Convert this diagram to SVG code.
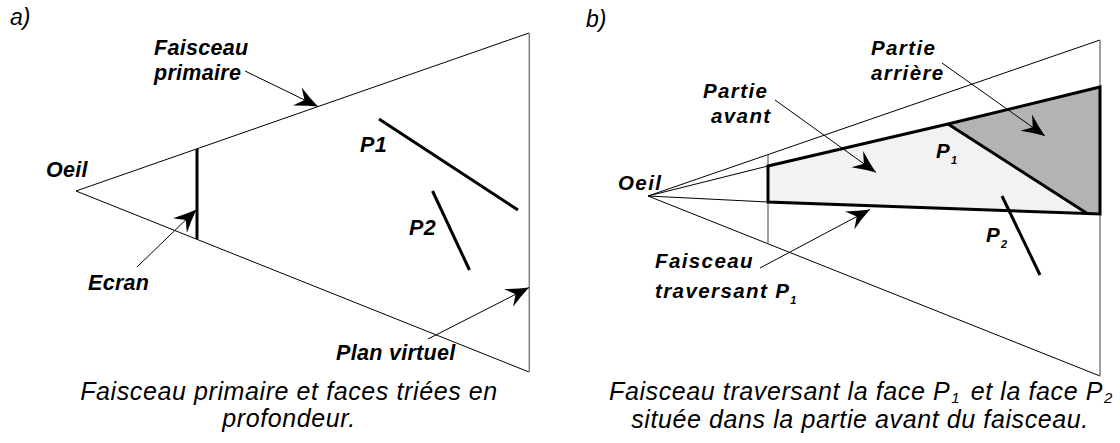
<svg xmlns="http://www.w3.org/2000/svg" width="1120" height="443" viewBox="0 0 1120 443">
<style>
.thin{stroke:#000;stroke-width:1;fill:none}
.gray{stroke:#7f7f7f;stroke-width:1.5;fill:none}
.thick{stroke:#000;stroke-width:3;fill:none;stroke-linecap:butt}
.arr{stroke:#000;stroke-width:1;fill:none;marker-end:url(#ah)}
.lab{font-family:"Liberation Sans",Arial,sans-serif;font-weight:bold;font-style:italic;font-size:21.5px;letter-spacing:0.3px;fill:#000}
.labb{font-family:"Liberation Sans",Arial,sans-serif;font-weight:bold;font-style:italic;font-size:20.5px;letter-spacing:1.4px;fill:#000}
.cap{font-family:"Liberation Sans",Arial,sans-serif;font-style:italic;font-size:25px;letter-spacing:0.6px;fill:#000}
.pan{font-family:"Liberation Sans",Arial,sans-serif;font-style:italic;font-size:23px;fill:#000}
</style>
<defs>
<marker id="ah" markerUnits="userSpaceOnUse" markerWidth="26" markerHeight="22" viewBox="-25 -11 26 22" refX="0" refY="0" orient="auto">
<path d="M0,0 Q-11,-4 -23,-10 L-15,0 L-23,10 Q-11,4 0,0 Z" fill="#000"/>
</marker>
</defs>
<rect width="1120" height="443" fill="#fff"/>

<!-- Panel a -->
<g id="panel-a-label"><text class="pan" x="10" y="25">a)</text></g>
<g id="beam-a">
<line class="thin" x1="76" y1="191" x2="529" y2="33"/>
<line class="thin" x1="76" y1="191" x2="529" y2="372"/>
</g>
<g id="plan-virtuel-a"><line class="gray" x1="529.3" y1="33" x2="529.3" y2="372"/></g>
<g id="ecran-a"><line class="thick" x1="197" y1="149" x2="197" y2="239"/></g>
<g id="p1-a"><line class="thick" x1="379" y1="119" x2="518" y2="210"/></g>
<g id="p2-a"><line class="thick" x1="432.5" y1="191" x2="469.5" y2="270"/></g>
<g id="labels-a">
<text class="lab" x="154" y="55">Faisceau</text>
<text class="lab" x="154" y="80">primaire</text>
<text class="lab" x="46" y="177">Oeil</text>
<text class="lab" x="88" y="290">Ecran</text>
<text class="lab" x="360" y="152">P1</text>
<text class="lab" x="409" y="235">P2</text>
<text class="lab" x="336" y="360">Plan virtuel</text>
</g>
<g id="caption-a">
<text class="cap" x="289" y="400" text-anchor="middle">Faisceau primaire et faces triées en</text>
<text class="cap" x="289" y="427" text-anchor="middle">profondeur.</text>
</g>

<!-- Panel b -->
<g id="panel-b-label"><text class="pan" x="586" y="27">b)</text></g>
<g id="partie-avant-b">
<polygon points="768,166 948,124 1088,214 768,202" fill="#f2f2f2" stroke="none"/>
</g>
<g id="partie-arriere-b">
<polygon points="948,124 1100,87 1100,214 1088,214" fill="#b3b3b3" stroke="none"/>
</g>
<g id="beam-b">
<line class="thin" x1="648" y1="196" x2="1100" y2="40"/>
<line class="thin" x1="648" y1="196" x2="1100" y2="376"/>
<line class="thin" x1="648" y1="196" x2="768" y2="166"/>
<line class="thin" x1="648" y1="196" x2="768" y2="202"/>
</g>
<g id="ecran-b"><line class="gray" x1="768" y1="155" x2="768" y2="243.5" stroke-width="1"/></g>
<g id="plan-virtuel-b"><line class="gray" x1="1100" y1="40" x2="1100" y2="376"/></g>
<g id="beam-p1-b">
<polygon points="768,166 948,124 1100,87 1100,214 768,202" fill="none" stroke="#000" stroke-width="3" stroke-linejoin="miter"/>
</g>
<g id="p1-b"><line class="thick" x1="948" y1="124" x2="1088" y2="214"/></g>
<g id="p2-b"><line class="thick" x1="1002" y1="196" x2="1040" y2="275"/></g>
<g id="labels-b">
<text class="labb" x="703" y="98">Partie</text>
<text class="labb" x="711" y="123">avant</text>
<text class="labb" x="871" y="55">Partie</text>
<text class="labb" x="871" y="80">arrière</text>
<text class="labb" x="618" y="190">Oeil</text>
<text class="labb" x="936" y="158">P<tspan font-size="11" dy="6">1</tspan></text>
<text class="labb" x="986" y="242">P<tspan font-size="11" dy="6">2</tspan></text>
<text class="labb" x="655" y="268">Faisceau</text>
<text class="labb" x="655" y="298">traversant P<tspan font-size="11" dy="6">1</tspan></text>
</g>
<g id="caption-b">
<text class="cap" x="861" y="400" text-anchor="middle">Faisceau traversant la face P<tspan font-size="15" dx="1" dy="3">1</tspan><tspan dx="3" dy="-3"> et la face P</tspan><tspan font-size="15" dx="1" dy="3">2</tspan></text>
<text class="cap" x="860" y="428" text-anchor="middle">située dans la partie avant du faisceau.</text>
</g>

<!-- Connectors -->
<g id="connectors">
<line class="arr" x1="245" y1="71" x2="318" y2="106.5"/>
<line class="arr" x1="137" y1="267" x2="196.5" y2="209.5"/>
<line class="arr" x1="428" y1="339" x2="529" y2="287.5"/>
<line class="arr" x1="775" y1="100" x2="876" y2="172.5"/>
<line class="arr" x1="942" y1="63" x2="1045" y2="136"/>
<line class="arr" x1="760" y1="268" x2="870" y2="209.5"/>
</g>
</svg>
